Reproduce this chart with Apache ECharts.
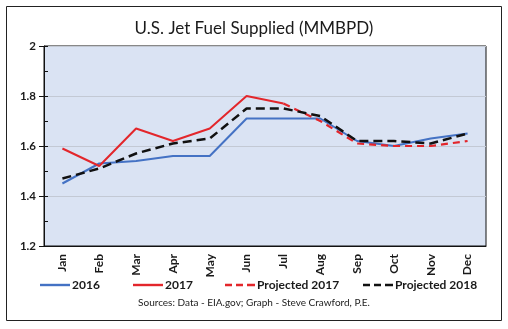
<!DOCTYPE html>
<html>
<head>
<meta charset="utf-8">
<script src="https://cdn.jsdelivr.net/npm/echarts@6/dist/echarts.min.js"></script>
<style>
  html, body { margin: 0; padding: 0; background: #ffffff; }
  #chart { width: 508px; height: 329px; }
</style>
</head>
<body>
<div id="chart"></div>
<script>
// Monthly U.S. jet fuel supplied, million barrels per day
const months = ['Jan', 'Feb', 'Mar', 'Apr', 'May', 'Jun', 'Jul', 'Aug', 'Sep', 'Oct', 'Nov', 'Dec'];
const y2016 = [1.45, 1.53, 1.54, 1.56, 1.56, 1.71, 1.71, 1.71, 1.62, 1.60, 1.63, 1.65];
const y2017 = [1.59, 1.52, 1.67, 1.62, 1.67, 1.80, 1.77, null, null, null, null, null];
const proj2017 = [null, null, null, null, null, null, 1.77, 1.70, 1.61, 1.60, 1.60, 1.62];
const proj2018 = [1.47, 1.51, 1.57, 1.61, 1.63, 1.75, 1.75, 1.72, 1.62, 1.62, 1.61, 1.65];
const yTicks = { min: 1.2, max: 2, step: 0.2, minorStep: 0.1 };

const FONT = 'Lato';
const SOLID_ICON = 'path://M0,0h30v2.4h-30z';
const DASH_ICON = 'path://M0,0h7v2.4h-7z M11,0h7v2.4h-7z M22,0h8v2.4h-8z';

// one legend block per series so each entry sits at its own spot along the bottom
function legendEntry(name, left, icon) {
  return {
    left: left,
    top: 279,
    padding: 0,
    itemWidth: 30,
    itemHeight: 2.4,
    icon: icon,
    textStyle: { fontFamily: FONT, fontSize: 12, fontWeight: 'bold', color: '#1a1a1a', padding: [0, 0, 0, -3] },
    data: [name]
  };
}

const chart = echarts.init(document.getElementById('chart'), null, { renderer: 'canvas' });

chart.setOption({
  backgroundColor: '#ffffff',
  animation: false,
  title: {
    text: 'U.S. Jet Fuel Supplied (MMBPD)',
    left: 'center',
    top: 15,
    textStyle: { fontFamily: FONT, fontSize: 17, fontWeight: 'normal', color: '#1a1a1a' }
  },
  graphic: [
    {
      type: 'rect',
      shape: { x: 6.5, y: 6.5, width: 495, height: 314 },
      style: { fill: 'none', stroke: '#222222', lineWidth: 1 },
      z: -1
    },
    {
      type: 'text',
      left: 'center',
      top: 298,
      style: {
        text: 'Sources: Data - EIA.gov; Graph - Steve Crawford, P.E.',
        font: '10px ' + FONT,
        fill: '#222222'
      }
    }
  ],
  legend: [
    legendEntry('2016', 40, SOLID_ICON),
    legendEntry('2017', 133, SOLID_ICON),
    legendEntry('Projected 2017', 225, DASH_ICON),
    legendEntry('Projected 2018', 363, DASH_ICON)
  ],
  grid: {
    left: 44,
    right: 22,
    top: 46,
    bottom: 83,
    show: true,
    backgroundColor: '#dae3f3',
    borderColor: '#111111',
    borderWidth: 1
  },
  xAxis: {
    type: 'category',
    data: months,
    boundaryGap: true,
    axisLine: { lineStyle: { color: '#111111', width: 1 } },
    axisTick: { alignWithLabel: true, length: 5, lineStyle: { color: '#999999' } },
    axisLabel: {
      rotate: 90,
      margin: 8,
      fontFamily: FONT,
      fontSize: 12,
      fontWeight: 'bold',
      color: '#1a1a1a'
    }
  },
  yAxis: [
    {
      type: 'value',
      min: yTicks.min,
      max: yTicks.max,
      interval: yTicks.step,
      axisLine: { show: true, lineStyle: { color: '#111111' } },
      axisTick: { show: true, length: 5, lineStyle: { color: '#111111' } },
      axisLabel: {
        margin: 8,
        fontFamily: FONT,
        fontSize: 11.5,
        fontWeight: 'bold',
        color: '#1a1a1a',
        formatter: v => String(+v.toFixed(1))
      },
      splitLine: { show: true, lineStyle: { color: '#c3c9d4', width: 1 } }
    },
    {
      // minor ticks drawn on the inside of the value axis
      type: 'value',
      position: 'left',
      min: yTicks.min,
      max: yTicks.max,
      interval: yTicks.minorStep,
      axisLine: { show: false },
      axisTick: { show: true, inside: true, length: 4, lineStyle: { color: '#111111' } },
      axisLabel: { show: false },
      splitLine: { show: false }
    }
  ],
  series: [
    {
      name: '2016',
      type: 'line',
      data: y2016,
      symbol: 'none',
      color: '#4472c4',
      lineStyle: { color: '#4472c4', width: 2 },
      z: 2
    },
    {
      name: '2017',
      type: 'line',
      data: y2017,
      symbol: 'none',
      color: '#e3262b',
      lineStyle: { color: '#e3262b', width: 2 },
      z: 3
    },
    {
      name: 'Projected 2017',
      type: 'line',
      data: proj2017,
      symbol: 'none',
      color: '#e3262b',
      lineStyle: { color: '#e3262b', width: 2.2, type: [7, 5] },
      z: 3
    },
    {
      name: 'Projected 2018',
      type: 'line',
      data: proj2018,
      symbol: 'none',
      color: '#111111',
      lineStyle: { color: '#111111', width: 2.5, type: [9, 5] },
      z: 4
    }
  ]
});
</script>
</body>
</html>
